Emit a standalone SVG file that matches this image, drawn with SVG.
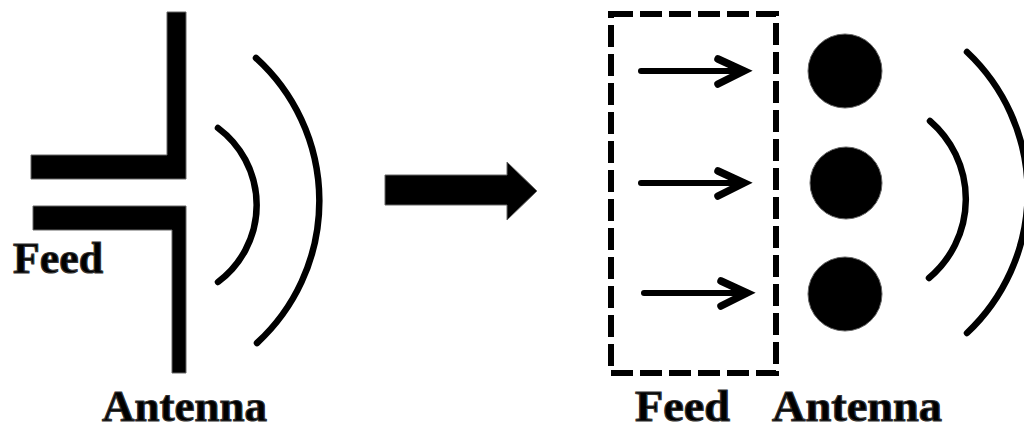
<svg xmlns="http://www.w3.org/2000/svg" width="1024" height="431" viewBox="0 0 1024 431">
  <style>
    .solid { fill: #000; stroke: #666; stroke-width: 1; }
    .wave { fill: none; stroke: #000; stroke-width: 6.5; stroke-linecap: round; }
    .label { font-family: "Liberation Serif", "Times New Roman", serif; font-weight: bold; font-size: 44px; fill: #000; stroke: #333; stroke-width: 1.2; }
    .frame { fill: none; stroke: #000; stroke-width: 6; stroke-dasharray: 22 7; }
    .feedline { fill: none; stroke: #000; stroke-width: 6; stroke-linecap: round; stroke-linejoin: round; }
    .chevron { fill: none; stroke: #000; stroke-width: 7.5; stroke-linecap: round; stroke-linejoin: miter; }
  </style>
  <rect width="1024" height="431" fill="#fff"/>

  <!-- Left: a dipole fed at the gap -->
  <g id="dipole-antenna">
    <polygon class="solid" points="167,12 186,12 186,179 31,179 31,155 167,155"/>
    <polygon class="solid" points="33,206 186,206 186,373 172,373 172,230 33,230"/>
  </g>
  <g id="dipole-waves">
    <path class="wave" d="M218,128 A96,96 0 0 1 218,282"/>
    <path class="wave" d="M256,58 A193,193 0 0 1 257,343"/>
  </g>
  <text id="feed-left" class="label" x="13" y="273" textLength="90" lengthAdjust="spacingAndGlyphs">Feed</text>
  <text id="antenna-left" class="label" x="102" y="421" textLength="165" lengthAdjust="spacingAndGlyphs">Antenna</text>

  <!-- Transition arrow -->
  <g id="connectors">
    <polygon id="transition-arrow" class="solid" points="385,175 507,175 507,162 537,191 507,220 507,205 385,205"/>
  </g>

  <!-- Right: feed network driving an array of elements -->
  <g id="feed-network">
    <rect class="frame" x="611" y="14" width="165" height="359"/>
    <g id="feed-arrow-1">
      <line class="feedline" x1="641" y1="71" x2="742" y2="71"/>
      <polyline class="chevron" points="718,59 744,71 718,84"/>
    </g>
    <g id="feed-arrow-2">
      <line class="feedline" x1="641" y1="183" x2="742" y2="183"/>
      <polyline class="chevron" points="718,171 744,183 718,196"/>
    </g>
    <g id="feed-arrow-3">
      <line class="feedline" x1="644" y1="293" x2="745" y2="293"/>
      <polyline class="chevron" points="721,281 747,293 721,306"/>
    </g>
  </g>
  <g id="array-elements">
    <circle class="solid" cx="845" cy="71" r="37"/>
    <circle class="solid" cx="846" cy="183" r="36"/>
    <circle class="solid" cx="845" cy="294" r="37"/>
  </g>
  <g id="array-waves">
    <path class="wave" d="M930,121 A103,103 0 0 1 929,278"/>
    <path class="wave" d="M967,52 A193,193 0 0 1 967,333"/>
  </g>
  <text id="feed-right" class="label" x="635" y="421" textLength="95" lengthAdjust="spacingAndGlyphs">Feed</text>
  <text id="antenna-right" class="label" x="772" y="421" textLength="170" lengthAdjust="spacingAndGlyphs">Antenna</text>
</svg>
